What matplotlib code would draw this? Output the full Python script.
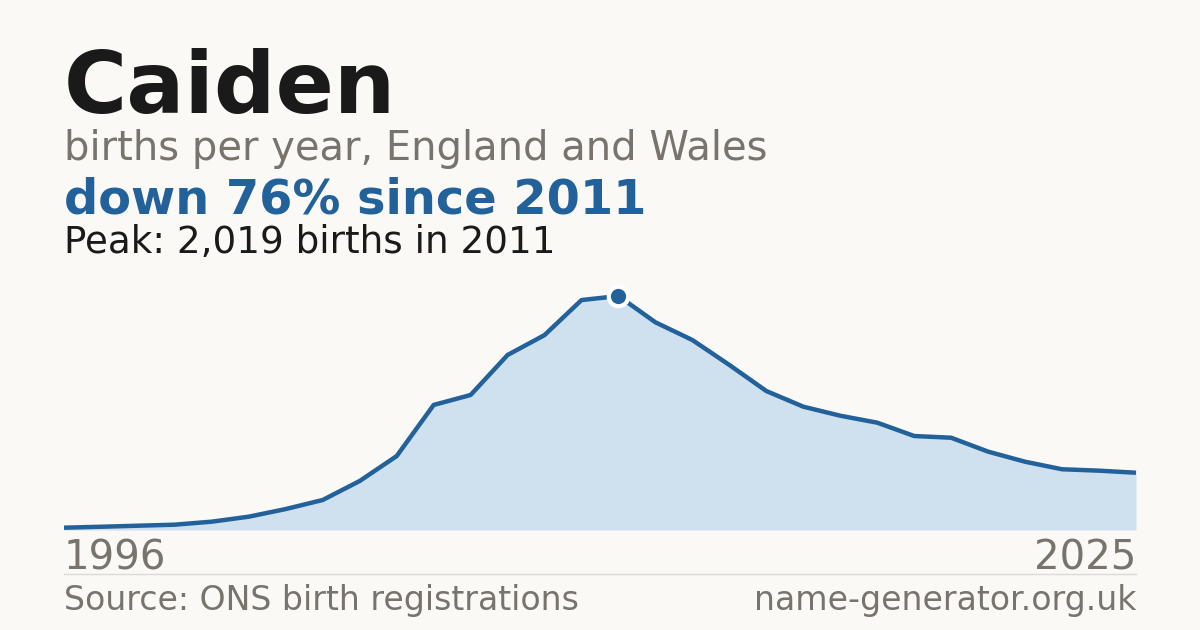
import matplotlib
matplotlib.use("Agg")
import matplotlib.pyplot as plt

BG = "#faf9f5"
BLUE = "#22619a"
FILL = "#cfe0ef"
GREY = "#78736c"
DARK = "#1a1a1a"

years = list(range(1996, 2026))
births = [20, 28, 37, 46, 72, 115, 181, 259, 423, 638,
          1079, 1165, 1510, 1682, 1984, 2019, 1792, 1639, 1424, 1199,
          1064, 986, 926, 811, 796, 676, 589, 524, 512, 494]

name = "Caiden"
peak_val = max(births)
peak_year = years[births.index(peak_val)]
drop_pct = round((1 - births[-1] / peak_val) * 100)

W, H = 1200, 630
fig = plt.figure(figsize=(W / 100, H / 100), dpi=100, facecolor=BG)

def fy(px):
    return 1 - px / H

# plot area: x 64..1136, baseline at y=530, peak at y=296
top_px = 280
ax = fig.add_axes([64 / W, fy(530), (1136 - 64) / W, (530 - top_px) / H])
ax.set_facecolor(BG)
ymax = peak_val * (530 - top_px) / (530 - 296)
ax.set_xlim(years[0], years[-1])
ax.set_ylim(0, ymax)
ax.fill_between(years, births, 0, color=FILL, linewidth=0)
ax.plot(years, births, color=BLUE, linewidth=3.2, solid_joinstyle="round",
        solid_capstyle="butt", clip_on=False)
ax.plot([peak_year], [peak_val], "o", color=BLUE, markersize=14,
        markeredgecolor="white", markeredgewidth=3, clip_on=False, zorder=5)
ax.axis("off")

# header texts
fig.text(64 / W, fy(113), name, fontsize=62, fontweight="bold", color=DARK)
fig.text(64 / W, fy(160), "births per year, England and Wales", fontsize=28.8, color=GREY)
fig.text(64 / W, fy(214), f"down {drop_pct}% since {peak_year}", fontsize=34.5,
         fontweight="bold", color=BLUE)
fig.text(64 / W, fy(253), f"Peak: {peak_val:,} births in {peak_year}", fontsize=26.8, color=DARK)

# axis year labels
fig.text(64 / W, fy(570), str(years[0]), fontsize=29, color=GREY)
fig.text(1136 / W, fy(570), str(years[-1]), fontsize=29, color=GREY, ha="right")

# separator and footer
fig.add_artist(plt.Line2D([64 / W, 1136 / W], [fy(574), fy(574)], color="#dddad4", linewidth=1))
fig.text(64 / W, fy(610), "Source: ONS birth registrations", fontsize=23.9, color=GREY)
fig.text(1136 / W, fy(610), "name-generator.org.uk", fontsize=23.9, color=GREY, ha="right")

fig.savefig("out.png", dpi=100, facecolor=BG)
